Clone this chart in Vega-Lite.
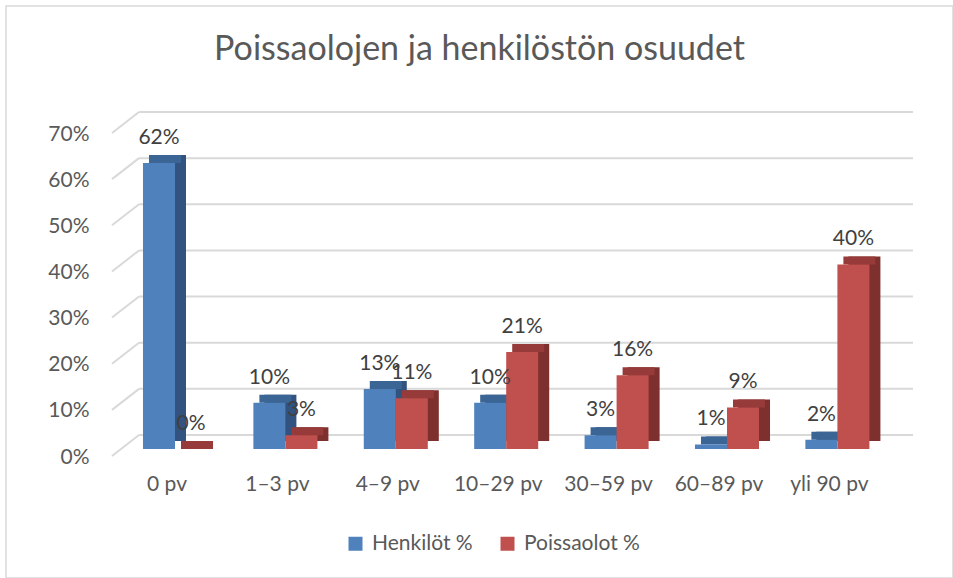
{
  "$schema": "https://vega.github.io/schema/vega-lite/v6.json",
  "width": 947,
  "height": 572,
  "padding": {"left": 6, "top": 6, "right": 0, "bottom": 0},
  "autosize": {"type": "none"},
  "background": "white",
  "config": {
    "view": {"stroke": "#d9d9d9", "strokeWidth": 1.5},
    "font": "Lato",
    "axis": {"grid": false, "domain": false, "ticks": false, "tickSize": 0, "title": null, "labelFont": "Lato", "labelFontSize": 21, "labelColor": "#595959"},
    "legend": {"orient": "none", "legendX": 339, "legendY": 527, "direction": "horizontal", "symbolType": "square", "symbolSize": 196, "symbolStrokeWidth": 0, "labelFont": "Lato", "labelFontSize": 21, "labelColor": "#595959", "labelOffset": 6, "columnPadding": 24, "title": null}
  },
  "title": {"text": "Poissaolojen ja henkilöstön osuudet", "anchor": "middle", "orient": "top", "offset": -61, "font": "Lato", "fontSize": 34, "fontWeight": "normal", "color": "#595959"},
  "datasets": {
    "bars": [
      {"cat": "0 pv", "series": "Henkilöt %", "value": 0.62},
      {"cat": "0 pv", "series": "Poissaolot %", "value": 0.0},
      {"cat": "1–3 pv", "series": "Henkilöt %", "value": 0.10},
      {"cat": "1–3 pv", "series": "Poissaolot %", "value": 0.03},
      {"cat": "4–9 pv", "series": "Henkilöt %", "value": 0.13},
      {"cat": "4–9 pv", "series": "Poissaolot %", "value": 0.11},
      {"cat": "10–29 pv", "series": "Henkilöt %", "value": 0.10},
      {"cat": "10–29 pv", "series": "Poissaolot %", "value": 0.21},
      {"cat": "30–59 pv", "series": "Henkilöt %", "value": 0.03},
      {"cat": "30–59 pv", "series": "Poissaolot %", "value": 0.16},
      {"cat": "60–89 pv", "series": "Henkilöt %", "value": 0.01},
      {"cat": "60–89 pv", "series": "Poissaolot %", "value": 0.09},
      {"cat": "yli 90 pv", "series": "Henkilöt %", "value": 0.02},
      {"cat": "yli 90 pv", "series": "Poissaolot %", "value": 0.40}
    ],
    "grid": [
      {"value": 0.0}, {"value": 0.1}, {"value": 0.2}, {"value": 0.3},
      {"value": 0.4}, {"value": 0.5}, {"value": 0.6}, {"value": 0.7}
    ]
  },
  "encoding": {
    "y": {
      "field": "value", "type": "quantitative",
      "scale": {"domain": [0, 0.7], "range": [443, 120], "nice": false, "zero": true},
      "axis": {"orient": "left", "offset": -83, "labelPadding": 0, "labelAlign": "right", "labelBaseline": "middle", "labelOffset": 8, "values": [0, 0.1, 0.2, 0.3, 0.4, 0.5, 0.6, 0.7], "format": ".0%", "title": null}
    }
  },
  "layer": [
    {
      "data": {"name": "grid"},
      "mark": {"type": "rule", "color": "#d9d9d9", "strokeWidth": 2, "yOffset": -14, "y2Offset": -14},
      "encoding": {
        "x": {"datum": 0, "type": "quantitative", "scale": {"domain": [0, 1], "range": [133, 907]}, "axis": null},
        "x2": {"datum": 1},
        "y2": {"field": "value"}
      }
    },
    {
      "data": {"name": "grid"},
      "mark": {"type": "rule", "color": "#d9d9d9", "strokeWidth": 2, "yOffset": 7, "y2Offset": -14},
      "encoding": {
        "x": {"datum": 0, "type": "quantitative", "scale": {"domain": [0, 1], "range": [106, 133]}, "axis": null},
        "x2": {"datum": 1},
        "y2": {"field": "value"}
      }
    },
    {
      "data": {"name": "bars"},
      "mark": {"type": "bar", "yOffset": -8, "y2Offset": -8},
      "encoding": {
        "x": {"field": "cat", "type": "nominal", "sort": ["0 pv", "1–3 pv", "4–9 pv", "10–29 pv", "30–59 pv", "60–89 pv", "yli 90 pv"], "scale": {"range": [124.8, 897.6], "paddingInner": 0.42, "paddingOuter": 0.21}, "axis": null},
        "xOffset": {"field": "series", "type": "nominal", "sort": ["Henkilöt %", "Poissaolot %"]},
        "fill": {"condition": {"test": "datum.series === 'Henkilöt %'", "value": "#32527f"}, "value": "#7e302e"}
      }
    },
    {
      "data": {"name": "bars"},
      "mark": {"type": "bar", "yOffset": -8, "y2Offset": 0},
      "encoding": {
        "x": {"field": "cat", "type": "nominal", "sort": ["0 pv", "1–3 pv", "4–9 pv", "10–29 pv", "30–59 pv", "60–89 pv", "yli 90 pv"], "scale": {"range": [119.8, 892.6], "paddingInner": 0.42, "paddingOuter": 0.21}, "axis": null},
        "xOffset": {"field": "series", "type": "nominal", "sort": ["Henkilöt %", "Poissaolot %"]},
        "y2": {"field": "value"},
        "fill": {"condition": {"test": "datum.series === 'Henkilöt %'", "value": "#3b6595"}, "value": "#963b39"}
      }
    },
    {
      "data": {"name": "bars"},
      "mark": {"type": "bar"},
      "encoding": {
        "x": {"field": "cat", "type": "nominal", "sort": ["0 pv", "1–3 pv", "4–9 pv", "10–29 pv", "30–59 pv", "60–89 pv", "yli 90 pv"], "scale": {"range": [113.8, 886.6], "paddingInner": 0.42, "paddingOuter": 0.21},
          "axis": {"orient": "bottom", "offset": -88, "labelPadding": 0, "labelBaseline": "alphabetic", "labelOffset": -8, "labelAngle": 0, "title": null}},
        "xOffset": {"field": "series", "type": "nominal", "sort": ["Henkilöt %", "Poissaolot %"]},
        "color": {"field": "series", "type": "nominal", "scale": {"domain": ["Henkilöt %", "Poissaolot %"], "range": ["#4f81bd", "#c0504d"]}}
      }
    },
    {
      "data": {"name": "bars"},
      "mark": {"type": "text", "dy": -25, "baseline": "middle", "align": "center", "font": "Lato", "fontSize": 21, "color": "#404040"},
      "encoding": {
        "x": {"field": "cat", "type": "nominal", "sort": ["0 pv", "1–3 pv", "4–9 pv", "10–29 pv", "30–59 pv", "60–89 pv", "yli 90 pv"], "scale": {"range": [113.8, 886.6], "paddingInner": 0.42, "paddingOuter": 0.21}, "axis": null},
        "xOffset": {"field": "series", "type": "nominal", "sort": ["Henkilöt %", "Poissaolot %"]},
        "text": {"field": "value", "type": "quantitative", "format": ".0%"}
      }
    }
  ],
  "resolve": {"scale": {"x": "independent", "xOffset": "independent"}, "axis": {"x": "independent"}}
}
